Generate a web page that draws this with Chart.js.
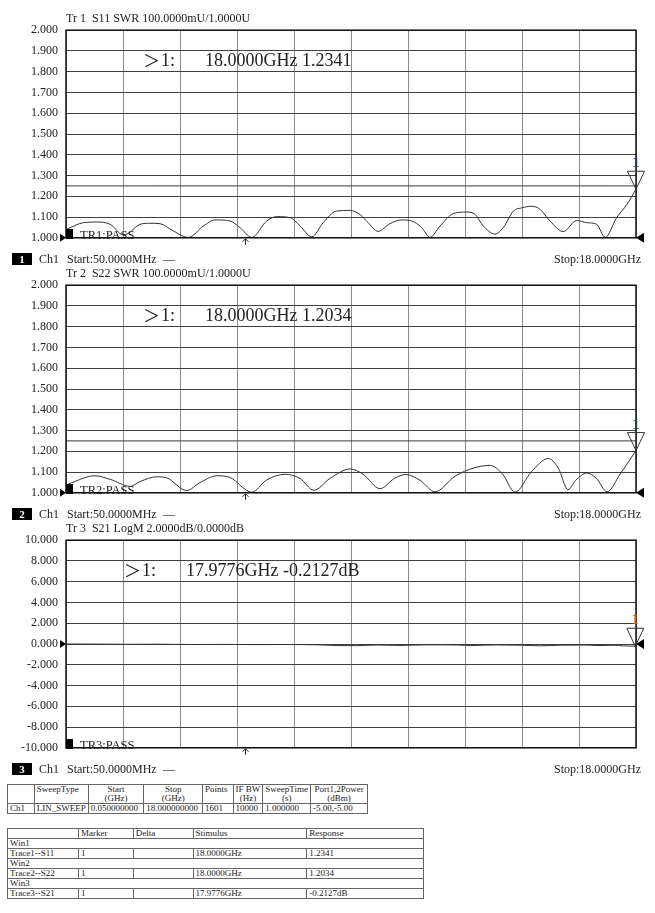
<!DOCTYPE html>
<html>
<head>
<meta charset="utf-8">
<script src="https://cdn.jsdelivr.net/npm/chart.js@4.4.0/dist/chart.umd.min.js"></script>
<style>
body { margin:0; background:#fff; width:655px; height:913px; position:relative; overflow:hidden;
       font-family:"Liberation Serif", serif; color:#222; }
.t { position:absolute; white-space:pre; line-height:1; }
canvas { position:absolute; left:0; }
.box { position:absolute; background:#000; color:#fff; font-size:11px; font-weight:bold; text-align:center; line-height:12px; }
table { position:absolute; border-collapse:collapse; font-size:9px; line-height:9px; color:#222; }
td { border:1px solid #666; padding:0 2px; vertical-align:top; white-space:nowrap; }
#t1 td.c { text-align:center; }
</style>
</head>
<body>

<canvas id="c1" width="655" height="238" style="top:15px"></canvas>
<canvas id="c2" width="655" height="238" style="top:270px"></canvas>
<canvas id="c3" width="655" height="238" style="top:525px"></canvas>

<table id="t1" style="left:7px;top:784px;width:361px">
  <colgroup><col style="width:32px"><col style="width:46px"><col style="width:58px"><col style="width:60px">
  <col style="width:33px"><col style="width:29px"><col style="width:44px"><col style="width:59px"></colgroup>
  <tr><td></td><td>SweepType</td><td class="c">Start<br>(GHz)</td><td class="c">Stop<br>(GHz)</td><td>Points</td>
      <td class="c">IF BW<br>(Hz)</td><td class="c">SweepTime<br>(s)</td><td class="c">Port1,2Power<br>(dBm)</td></tr>
  <tr><td>Ch1</td><td>LIN_SWEEP</td><td>0.050000000</td><td>18.000000000</td><td>1601</td><td>10000</td><td>1.000000</td><td>-5.00,-5.00</td></tr>
</table>

<table id="t2" style="left:7px;top:828px;width:417px">
  <colgroup><col style="width:71px"><col style="width:55px"><col style="width:60px"><col style="width:114px"><col style="width:117px"></colgroup>
  <tr><td></td><td>Marker</td><td>Delta</td><td>Stimulus</td><td>Response</td></tr>
  <tr><td colspan="5">Win1</td></tr>
  <tr><td>Trace1--S11</td><td>1</td><td></td><td>18.0000GHz</td><td>1.2341</td></tr>
  <tr><td colspan="5">Win2</td></tr>
  <tr><td>Trace2--S22</td><td>1</td><td></td><td>18.0000GHz</td><td>1.2034</td></tr>
  <tr><td colspan="5">Win3</td></tr>
  <tr><td>Trace3--S21</td><td>1</td><td></td><td>17.9776GHz</td><td>-0.2127dB</td></tr>
</table>

<script>
// ===== Sweep / axis data =====
const freqStart = 0.05;
const freqStop = 18;
const xGridFreq = [0.05, 1.845, 3.64, 5.435, 7.23, 9.025, 10.82, 12.615, 14.41, 16.205, 18];
const swrTicks = [1.0, 1.1, 1.2, 1.3, 1.4, 1.5, 1.6, 1.7, 1.8, 1.9, 2.0];
const dbTicks = [-10, -8, -6, -4, -2, 0, 2, 4, 6, 8, 10];

// ===== Traces (GHz) =====
const s11Freq = [0.07, 0.60, 1.02, 1.44, 1.85, 2.01, 2.38, 2.69, 3.01, 3.43, 3.90, 4.38, 4.74, 5.22, 5.53, 5.90,
  6.37, 6.69, 7.11, 7.42, 7.79, 8.15, 8.57, 8.99, 9.31, 9.55, 9.88, 10.25, 10.62, 10.94, 11.25, 11.51, 11.83,
  12.25, 12.67, 12.93, 13.19, 13.56, 13.82, 14.14, 14.40, 14.72, 14.98, 15.29, 15.71, 16.13, 16.45, 16.76,
  17.03, 17.39, 17.71, 18.00];
const s11Swr = [1.041, 1.073, 1.076, 1.065, 1.014, 1.021, 1.065, 1.070, 1.068, 1.033, 1.002, 1.057, 1.086, 1.081,
  1.049, 1.002, 1.081, 1.102, 1.097, 1.057, 1.005, 1.073, 1.129, 1.132, 1.112, 1.075, 1.031, 1.068, 1.086, 1.081,
  1.049, 1.002, 1.057, 1.117, 1.124, 1.113, 1.057, 1.018, 1.049, 1.129, 1.144, 1.152, 1.137, 1.081, 1.030, 1.083,
  1.073, 1.065, 1.002, 1.097, 1.160, 1.2341];

const s22Freq = [0.12, 0.96, 1.44, 2.07, 2.38, 2.91, 3.22, 3.85, 4.27, 4.80, 5.21, 5.90, 6.37, 6.95, 7.42, 7.86,
  8.36, 9.00, 9.40, 9.94, 10.40, 10.75, 11.20, 11.67, 12.30, 12.90, 13.40, 13.80, 14.19, 14.70, 15.23, 15.55,
  15.86, 16.10, 16.45, 16.75, 17.09, 17.50, 18.00];
const s22Swr = [1.043, 1.082, 1.065, 1.031, 1.054, 1.077, 1.072, 1.011, 1.049, 1.082, 1.074, 1.003, 1.062, 1.089,
  1.069, 1.012, 1.069, 1.115, 1.090, 1.020, 1.070, 1.088, 1.060, 1.005, 1.080, 1.120, 1.132, 1.090, 1.003, 1.100,
  1.165, 1.120, 1.015, 1.060, 1.095, 1.070, 1.005, 1.090, 1.2034];

const s21Freq = [0.05, 1.0, 2.0, 3.0, 4.0, 5.0, 6.0, 7.0, 8.0, 8.6, 9.2, 9.8, 10.6, 11.4, 12.4, 12.8, 13.6,
  14.4, 15.0, 15.6, 16.4, 16.8, 17.3, 17.6, 17.9776, 18.0];
const s21Db = [0.00, -0.01, -0.03, -0.02, -0.05, -0.04, -0.06, -0.05, -0.08, -0.15, -0.16, -0.10, -0.14, -0.08,
  -0.10, -0.15, -0.09, -0.12, -0.17, -0.12, -0.10, -0.15, -0.12, -0.18, -0.2127, -0.21];

// limit line and markers
const limitFreq = [0.05, 18];
const limitSwr = [1.25, 1.25];
const markerFreq = [18.0, 18.0, 17.9776];
const markerValue = [1.2341, 1.2034, -0.2127];

// ===== Frame, reference arrows, markers =====
const vnaDecor = {
  id: 'vnaDecor',
  afterDatasetsDraw(chart, args, opts) {
    const { ctx, chartArea: a, scales: { x, y } } = chart;
    ctx.save();
    ctx.strokeStyle = '#111';
    ctx.lineWidth = 1.5;
    ctx.strokeRect(a.left, a.top, a.right - a.left, a.bottom - a.top);

    // reference position arrows
    const yr = y.getPixelForValue(opts.refValue);
    ctx.fillStyle = '#000';
    ctx.beginPath(); ctx.moveTo(a.left, yr); ctx.lineTo(a.left - 6, yr - 4); ctx.lineTo(a.left - 6, yr + 4); ctx.fill();
    ctx.beginPath(); ctx.moveTo(a.right, yr); ctx.lineTo(a.right + 8, yr - 5); ctx.lineTo(a.right + 8, yr + 5); ctx.fill();

    // stimulus arrow under the axis
    const xs = Math.round(x.getPixelForValue(opts.stimulus)) + 0.5;
    ctx.strokeStyle = '#222';
    ctx.lineWidth = 1;
    ctx.beginPath();
    ctx.moveTo(xs, a.bottom + 1); ctx.lineTo(xs, a.bottom + 7);
    ctx.moveTo(xs - 3, a.bottom + 4); ctx.lineTo(xs, a.bottom + 1); ctx.lineTo(xs + 3, a.bottom + 4);
    ctx.stroke();

    // marker triangle
    const mx = x.getPixelForValue(opts.markerX);
    const my = y.getPixelForValue(opts.markerY);
    ctx.strokeStyle = '#333';
    ctx.beginPath(); ctx.moveTo(mx, my); ctx.lineTo(mx - 8.5, my - 18); ctx.lineTo(mx + 8.5, my - 18); ctx.closePath(); ctx.stroke();
    ctx.fillStyle = opts.markerColor;
    ctx.font = 'bold 14px "Liberation Serif"';
    ctx.textAlign = 'center';
    ctx.textBaseline = 'alphabetic';
    ctx.fillText('1', mx, my - 22);
    ctx.restore();
  }
};

function buildChart(id, fx, fy, yTicks, idx, withLimit, refValue, markerColor) {
  const datasets = [{
    data: fx.map((f, i) => ({ x: f, y: fy[i] })),
    borderColor: '#333', borderWidth: 1, pointRadius: 0, cubicInterpolationMode: 'monotone'
  }];
  if (withLimit) {
    datasets.push({
      data: limitFreq.map((f, i) => ({ x: f, y: limitSwr[i] })),
      borderColor: '#3a3a3a', borderWidth: 1, pointRadius: 0
    });
  }
  return new Chart(document.getElementById(id), {
    type: 'line',
    data: { datasets },
    options: {
      responsive: false,
      animation: false,
      layout: { padding: { top: 10, right: 19, bottom: 0, left: 0 } },
      plugins: {
        legend: { display: false },
        tooltip: { enabled: false },
        vnaDecor: { refValue, stimulus: 5.69, markerX: markerFreq[idx], markerY: markerValue[idx], markerColor }
      },
      scales: {
        x: {
          type: 'linear', min: freqStart, max: freqStop,
          ticks: { display: false },
          grid: { color: '#8c8c8c', drawTicks: false },
          border: { display: false },
          afterBuildTicks: s => { s.ticks = xGridFreq.map(v => ({ value: v })); },
          afterFit: s => { s.height = 12; }
        },
        y: {
          min: yTicks[0], max: yTicks[yTicks.length - 1],
          ticks: { padding: 8, color: '#222', font: { family: 'Liberation Serif', size: 12 }, callback: v => v.toFixed(3) },
          grid: { color: '#404040', drawTicks: false },
          border: { display: false },
          afterBuildTicks: s => { s.ticks = yTicks.map(v => ({ value: v })); },
          afterFit: s => { s.width = 66; }
        }
      }
    },
    plugins: [vnaDecor]
  });
}

buildChart('c1', s11Freq, s11Swr, swrTicks, 0, true, 1, '#2a3a66');
buildChart('c2', s22Freq, s22Swr, swrTicks, 1, true, 1, '#2a3a66');
buildChart('c3', s21Freq, s21Db, dbTicks, 2, false, 0, '#b0641e');

// ===== Panel texts =====
const panelTop = [25, 280, 535];
const titles = ['Tr 1  S11 SWR 100.0000mU/1.0000U', 'Tr 2  S22 SWR 100.0000mU/1.0000U', 'Tr 3  S21 LogM 2.0000dB/0.0000dB'];
const readouts = [[143, 205, '18.0000GHz 1.2341'], [143, 205, '18.0000GHz 1.2034'], [124, 186, '17.9776GHz -0.2127dB']];

function addText(txt, left, top, size, extra) {
  const d = document.createElement('div');
  d.className = 't';
  d.textContent = txt;
  d.style.left = left + 'px';
  d.style.top = top + 'px';
  d.style.fontSize = size + 'px';
  if (extra) Object.assign(d.style, extra);
  document.body.appendChild(d);
  return d;
}

panelTop.forEach((T, i) => {
  const B = T + 216;
  addText(titles[i], 66, T - 13, 12);
  const r = readouts[i];
  addText('＞', r[0], T + 26, 17, { fontFamily: '"Noto Sans CJK SC"' });
  addText('1:', r[0] + 18, T + 26, 18);
  addText(r[2], r[1], T + 26, 18);
  const sq = document.createElement('div');
  sq.style.cssText = `position:absolute;left:66px;top:${B - 12}px;width:7px;height:10px;background:#000`;
  document.body.appendChild(sq);
  addText('TR' + (i + 1) + ':PASS', 80, B - 12, 12.5);
  const box = document.createElement('div');
  box.className = 'box';
  box.textContent = String(i + 1);
  box.style.cssText += `left:12px;top:${B + 12}px;width:20px;height:12px;`;
  document.body.appendChild(box);
  addText('Ch1', 39, B + 12, 12);
  addText('Start:50.0000MHz', 67, B + 12, 12);
  addText('—', 163, B + 12, 12);
  addText('Stop:18.0000GHz', 0, B + 12, 12, { left: 'auto', right: '14px' });
});
</script>
</body>
</html>
